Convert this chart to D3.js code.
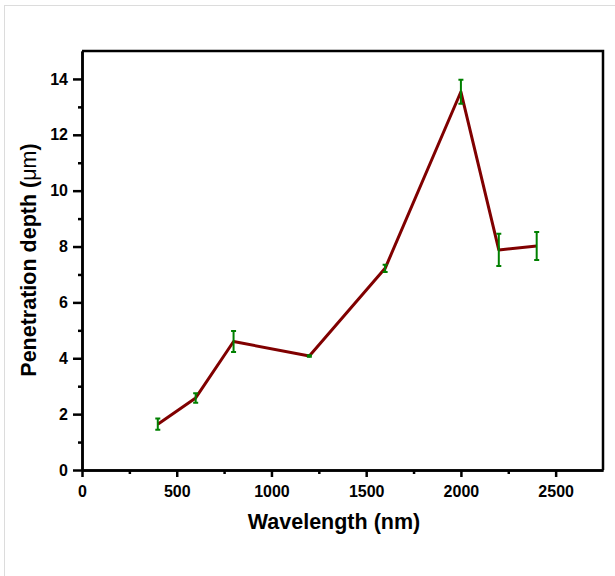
<!DOCTYPE html>
<html>
<head>
<meta charset="utf-8">
<title>Penetration depth</title>
<script src="https://d3js.org/d3.v7.min.js"></script>
<style>
    body { margin: 0; background: #fff; }
    svg text { font-family: "Liberation Sans", Arial, sans-serif; font-weight: bold; fill: #000; }
</style>
</head>
<body>
<svg id="chart" width="615" height="576"></svg>
<script>
// datos
const wavelength = [400, 600, 800, 1200, 1600, 2000, 2200, 2400];
const depth = [1.64, 2.58, 4.6, 4.08, 7.22, 13.54, 7.88, 8.02];
const depthErr = [0.2, 0.17, 0.38, 0.03, 0.13, 0.43, 0.58, 0.5];
const xTicks = [0, 500, 1000, 1500, 2000, 2500];
const yTicks = [0, 2, 4, 6, 8, 10, 12, 14];

const svg = d3.select("#chart");

// marco gris de la pagina
svg.append("rect")
    .attr("x", 4.5).attr("y", 5.5)
    .attr("width", 700).attr("height", 700)
    .attr("fill", "none")
    .attr("stroke", "#dcdcdc")
    .attr("stroke-width", 1);

const margin = { top: 51, right: 12, bottom: 106, left: 82 };
const width = 615 - margin.left - margin.right;
const height = 576 - margin.top - margin.bottom;

const x = d3.scaleLinear().domain([0, 2750]).range([margin.left, margin.left + width]);
const y = d3.scaleLinear().domain([0, 15]).range([margin.top + height, margin.top]);

// ejes
const xMinor = d3.range(250, 2750, 500);
const yMinor = d3.range(1, 15, 2);

svg.append("g")
    .attr("transform", `translate(0,${y(0)})`)
    .call(d3.axisBottom(x).tickValues(xTicks).tickFormat(d3.format("d")).tickSize(7).tickSizeOuter(0).tickPadding(9));
svg.append("g")
    .attr("transform", `translate(0,${y(0)})`)
    .call(d3.axisBottom(x).tickValues(xMinor).tickFormat("").tickSize(4).tickSizeOuter(0));

svg.append("g")
    .attr("transform", `translate(${x(0)},0)`)
    .call(d3.axisLeft(y).tickValues(yTicks).tickSize(9).tickSizeOuter(0).tickPadding(5));
svg.append("g")
    .attr("transform", `translate(${x(0)},0)`)
    .call(d3.axisLeft(y).tickValues(yMinor).tickFormat("").tickSize(4).tickSizeOuter(0));

svg.selectAll(".domain").attr("stroke", "#000").attr("stroke-width", 2.5);
svg.selectAll(".tick line").attr("stroke", "#000").attr("stroke-width", 2.5);
svg.selectAll(".tick text").style("font-size", "16px").style("font-weight", "bold");

// lineas superior y derecha del marco
svg.append("path")
    .attr("d", `M${x(0)},${y(15)}H${x(2750)}V${y(0)}`)
    .attr("fill", "none")
    .attr("stroke", "#000")
    .attr("stroke-width", 2.5);

// linea de datos
const line = d3.line()
    .x((d, i) => x(wavelength[i]))
    .y(d => y(d));

svg.append("path")
    .datum(depth)
    .attr("fill", "none")
    .attr("stroke", "#800000")
    .attr("stroke-width", 3)
    .attr("stroke-linejoin", "round")
    .attr("d", line);

// barras de error
const eb = svg.append("g").attr("stroke", "#008000").attr("stroke-width", 2).attr("fill", "none");
depth.forEach((d, i) => {
    const cx = x(wavelength[i]);
    const y1 = y(d + depthErr[i]);
    const y2 = y(d - depthErr[i]);
    eb.append("path")
        .attr("d", `M${cx},${y1}V${y2}M${cx - 2.5},${y1}H${cx + 2.5}M${cx - 2.5},${y2}H${cx + 2.5}`);
});

// titulos de los ejes
svg.append("text")
    .attr("x", 334)
    .attr("y", 529)
    .attr("text-anchor", "middle")
    .style("font-size", "21.5px")
    .text("Wavelength (nm)");

const yl = svg.append("text")
    .attr("transform", `translate(36,260) rotate(-90)`)
    .attr("text-anchor", "middle")
    .style("font-size", "21.5px");
yl.append("tspan").text("Penetration depth (");
yl.append("tspan").style("font-weight", "normal").text("\u03bcm");
yl.append("tspan").text(")");
</script>
</body>
</html>
